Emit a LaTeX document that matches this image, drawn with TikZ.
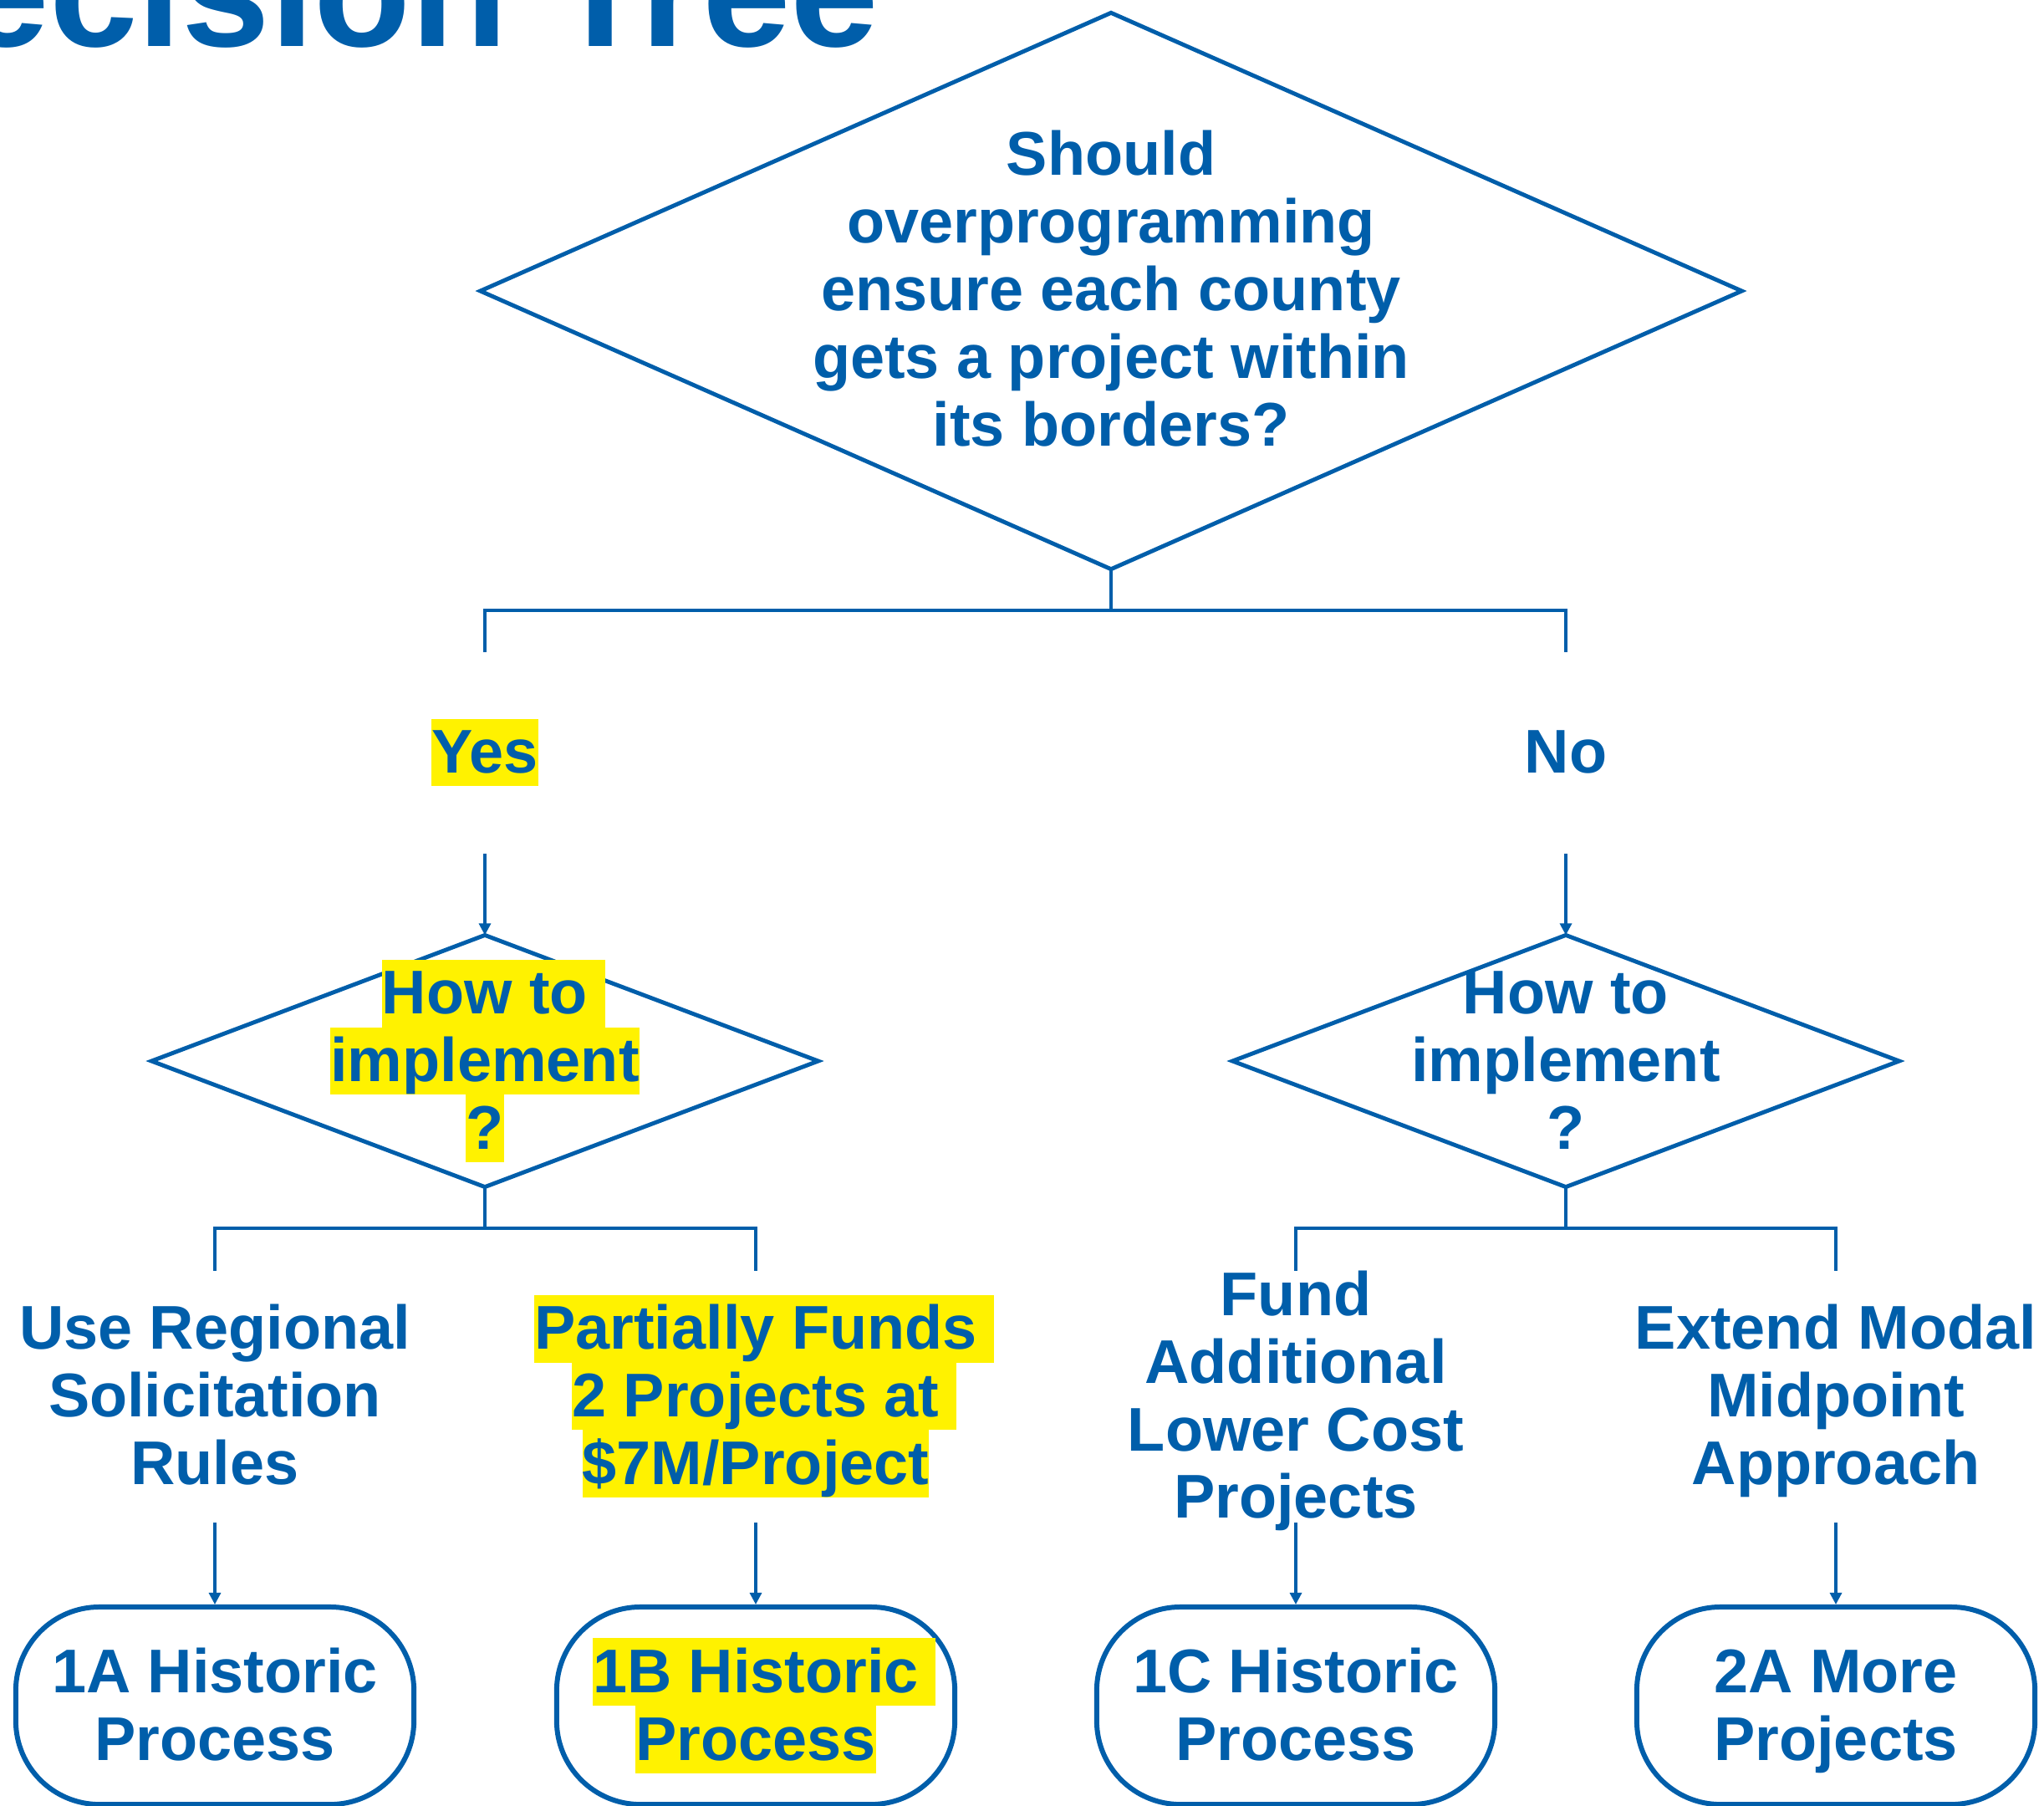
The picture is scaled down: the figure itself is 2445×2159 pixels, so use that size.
\documentclass[tikz,border=0pt]{standalone}
\usepackage{fontspec}
\setmainfont{Liberation Sans}
\usetikzlibrary{shapes.geometric,arrows.meta}

\definecolor{tblue}{RGB}{0,94,170}
\newcommand{\sr}{\rule[-4.5pt]{0pt}{23pt}}
\newcommand{\hlt}[1]{{\setlength{\fboxsep}{0pt}\colorbox{yellow}{\sr#1}}}
\newcommand{\hlts}[1]{\hlt{#1}\rlap{\hlt{\ }}}

\tikzset{
  txt/.style={text=tblue, font=\bfseries\fontsize{21}{23}\selectfont, align=center, inner sep=0pt},
  title/.style={text=tblue, font=\bfseries\fontsize{54}{60}\selectfont, inner sep=0pt},
  decision/.style={diamond, draw=tblue, line width=1.4pt, inner sep=0pt, outer sep=0pt},
  outcome/.style={txt, draw=tblue, line width=1.7pt, rounded corners=1cm, minimum width=4.76cm, minimum height=2.36cm},
  link/.style={draw=tblue, line width=1.4pt},
  arr/.style={draw=tblue, line width=0.9pt, -{Triangle[width=0.14cm,length=0.14cm]}},
}

\begin{document}
\begin{tikzpicture}[x=0.01cm,y=-0.01cm]
    \useasboundingbox (0,0) rectangle (2445,2159);

    \node[title, anchor=base east] (title) at (1052,55) {Decision Tree};

    % first question
    \node[decision, minimum width=15.08cm, minimum height=6.65cm] (q0) at (1329,348) {};
    \node[txt] (q0t) at (1329,347) {\sr Should\\overprogramming\\ensure each county\\gets a project within\\its borders?\sr};

    \coordinate (j0) at (1329,730);
    \coordinate (yesIn) at (580,780);
    \coordinate (noIn) at (1873,780);
    \draw[link] (q0.south) -- (j0);
    \draw[link] (yesIn) |- (j0) -| (noIn);

    \node[txt] (yes) at (580,900) {\hlt{Yes}};
    \node[txt] (no) at (1873,900) {\sr No};

    % second level
    \node[decision, minimum width=7.97cm, minimum height=3.01cm] (q1) at (580,1269) {};
    \node[txt] (q1t) at (q1) {\hlts{How to}\\\hlt{implement}\\\hlt{?}};
    \node[decision, minimum width=7.97cm, minimum height=3.01cm] (q2) at (1873,1269) {};
    \node[txt] (q2t) at (q2) {\sr How to\\implement\\?\sr};

    \coordinate (yesOut) at (580,1021);
    \coordinate (noOut) at (1873,1021);
    \draw[arr] (yesOut) -- (q1.north);
    \draw[arr] (noOut) -- (q2.north);

    \coordinate (j1) at (580,1469);
    \coordinate (j2) at (1873,1469);
    \coordinate (o1In) at (257,1520);
    \coordinate (o2In) at (904,1520);
    \coordinate (o3In) at (1550,1520);
    \coordinate (o4In) at (2196,1520);
    \draw[link] (q1.south) -- (j1);
    \draw[link] (o1In) |- (j1) -| (o2In);
    \draw[link] (q2.south) -- (j2);
    \draw[link] (o3In) |- (j2) -| (o4In);

    % options
    \node[txt] (o1) at (257,1670) {\sr Use Regional\\Solicitation\\Rules\sr};
    \node[txt] (o2) at (904,1670) {\hlts{Partially Funds}\\\hlts{2 Projects at}\\\hlt{\$7M/Project}};
    \node[txt] (o3) at (1550,1670) {\sr Fund\\Additional\\Lower Cost\\Projects\sr};
    \node[txt] (o4) at (2196,1670) {\sr Extend Modal\\Midpoint\\Approach\sr};

    % outcomes
    \node[outcome] (r1) at (257,2040) {\sr 1A Historic\\Process\sr};
    \node[outcome] (r2) at (904,2040) {\hlts{1B Historic}\\\hlt{Process}};
    \node[outcome] (r3) at (1550,2040) {\sr 1C Historic\\Process\sr};
    \node[outcome] (r4) at (2196,2040) {\sr 2A More\\Projects\sr};

    \coordinate (o1Out) at (257,1821);
    \coordinate (o2Out) at (904,1821);
    \coordinate (o3Out) at (1550,1821);
    \coordinate (o4Out) at (2196,1821);
    \draw[arr] (o1Out) -- (r1.north);
    \draw[arr] (o2Out) -- (r2.north);
    \draw[arr] (o3Out) -- (r3.north);
    \draw[arr] (o4Out) -- (r4.north);
\end{tikzpicture}
\end{document}
